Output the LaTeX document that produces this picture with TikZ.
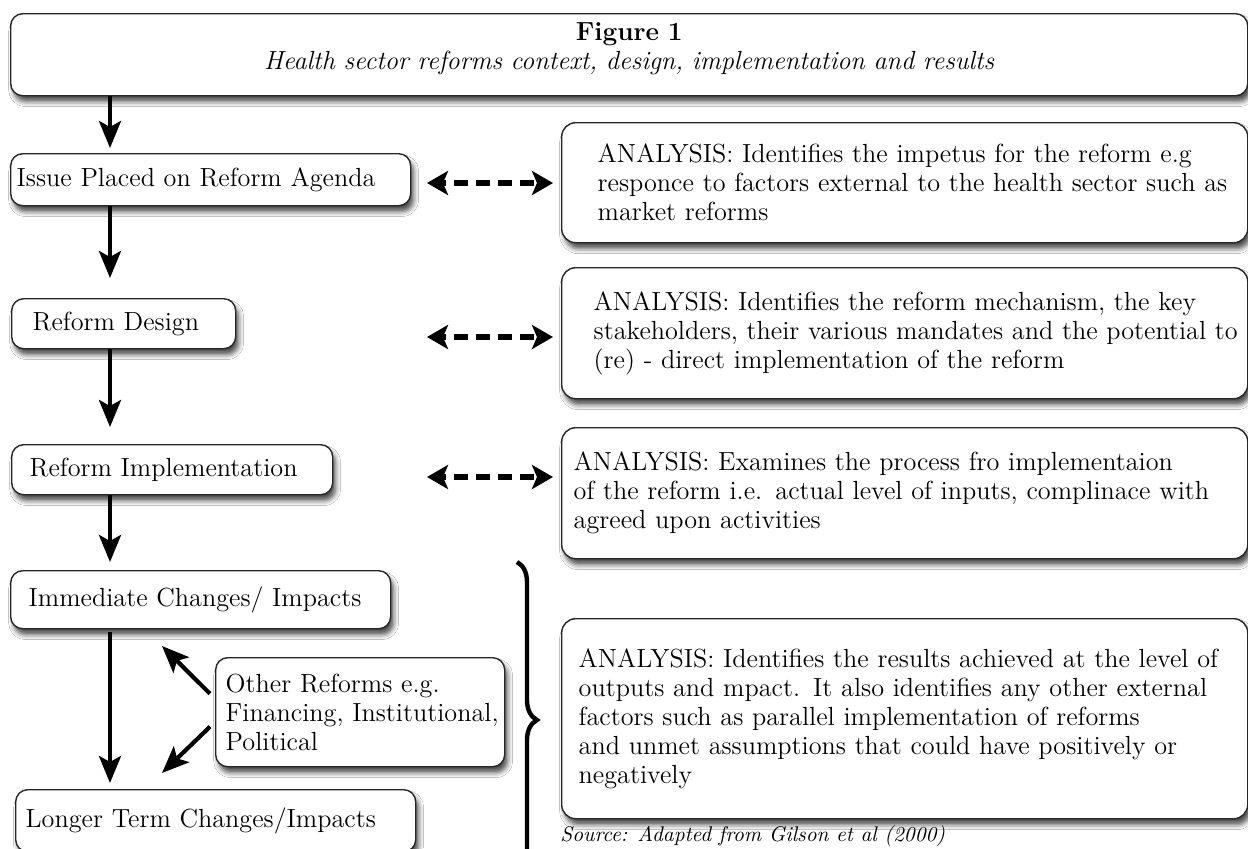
\documentclass[tikz,border=0pt]{standalone}
\usetikzlibrary{arrows.meta,decorations.pathreplacing,shadows.blur}
\begin{document}
\begin{tikzpicture}[x=0.5pt,y=-0.5pt]
\tikzset{
  shbox/.style={draw=black!85, line width=0.7pt, rounded corners=6pt, fill=white,
    blur shadow={shadow xshift=1.5pt, shadow yshift=-3pt, shadow blur radius=2.5pt, shadow opacity=70},
    anchor=north west, inner ysep=0pt, align=left,
    font=\fontsize{13.1}{14.5}\selectfont},
  abox/.style={shbox, rounded corners=7pt, minimum width=343pt},
  flow/.style={line width=2.1pt, -{Stealth[length=13.5pt,width=11pt,inset=3pt]}},
  dflow/.style={line width=2.6pt, dash pattern=on 7pt off 4pt, dash phase=5pt,
    {Stealth[length=10.5pt,width=12pt,inset=2.5pt]}-{Stealth[length=10.5pt,width=12pt,inset=2.5pt]}},
  bracepath/.style={line width=2.2pt, decorate, decoration={brace, amplitude=10pt}},
  srctext/.style={font=\fontsize{10.6}{12}\selectfont\itshape, anchor=base west, inner sep=0pt}
}
\useasboundingbox (0,0) rectangle (1248,848);
\clip (0,0) rectangle (1248,848);
\fill[white] (0,0) rectangle (1248,848);

% left column
\node[shbox, minimum width=618.5pt, minimum height=41pt, text width=600pt, inner xsep=9.25pt, align=center] (top) at (10,13)
  {\textbf{Figure 1}\\\textit{Health sector reforms context, design, implementation and results}\\[-6pt]\mbox{}};
\node[shbox, minimum width=200pt, minimum height=26pt, text width=194pt, inner xsep=3pt] (issue) at (10,153)
  {Issue Placed on Reform Agenda};
\node[shbox, minimum width=112pt, minimum height=25pt, text width=91pt, inner xsep=10.5pt] (design) at (11,298)
  {Reform Design};
\node[shbox, minimum width=160.5pt, minimum height=25pt, text width=142.5pt, inner xsep=9pt] (impl) at (11,444)
  {Reform Implementation};
\node[shbox, minimum width=190pt, minimum height=29pt, text width=172pt, inner xsep=9pt] (immediate) at (10,570)
  {Immediate Changes/ Impacts};
\node[shbox, minimum width=200pt, minimum height=31pt, text width=190pt, inner xsep=5pt] (longer) at (15,789)
  {Longer Term Changes/Impacts};
\node[shbox, minimum width=144.5pt, minimum height=54.5pt, text width=134.5pt, inner xsep=5pt] (other) at (215,657)
  {\mbox{Other Reforms e.g.}\\\mbox{Financing, Institutional,}\\\mbox{Political}};

% analysis boxes
\node[abox, minimum height=60pt, text width=307pt, inner xsep=18pt] (a1) at (561,122)
  {\mbox{ANALYSIS: Identifies the impetus for the reform e.g}\\\mbox{responce to factors external to the health sector such as}\\\mbox{market reforms}};
\node[abox, minimum height=65.5pt, text width=311pt, inner xsep=16pt] (a2) at (561,267)
  {\mbox{ANALYSIS: Identifies the reform mechanism, the key}\\\mbox{stakeholders, their various mandates and the potential to}\\\mbox{(re) - direct implementation of the reform}};
\node[abox, minimum height=65.5pt, text width=331pt, inner xsep=6pt] (a3) at (561,427)
  {\mbox{ANALYSIS: Examines the process fro implementaion}\\\mbox{of the reform i.e. actual level of inputs, complinace with}\\\mbox{agreed upon activities}};
\node[abox, minimum height=100pt, text width=326pt, inner xsep=8.5pt] (a4) at (561,618)
  {\mbox{ANALYSIS: Identifies the results achieved at the level of}\\\mbox{outputs and mpact. It also identifies any other external}\\\mbox{factors such as parallel implementation of reforms}\\\mbox{and unmet assumptions that could have positively or}\\\mbox{negatively}};

\node[srctext] (source) at (560,841) {Source: Adapted from Gilson et al (2000)};

% vertical flow arrows
\coordinate (ax) at (110,0);
\draw[flow, shorten >=2.5pt] (top.south -| ax) -- (issue.north -| ax);
\draw[flow, shorten >=10pt] (issue.south -| ax) -- (design.north -| ax);
\draw[flow, shorten >=8.5pt] (design.south -| ax) -- (impl.north -| ax);
\draw[flow, shorten >=4pt] (impl.south -| ax) -- (immediate.north -| ax);
\draw[flow, shorten <=1.5pt, shorten >=3pt] (immediate.south -| ax) -- (longer.north -| ax);

% other reforms arrows
\coordinate (uptip) at (162,646);
\coordinate (dntip) at (162,773);
\draw[flow] ([xshift=-2.5pt,yshift=9.25pt]other.west) -- (uptip);
\draw[flow] ([xshift=-2.5pt,yshift=-7.25pt]other.west) -- (dntip);

% dashed double arrows
\coordinate (d1l) at (427,183); \coordinate (d1r) at (553,183);
\coordinate (d2l) at (427,337); \coordinate (d2r) at (553,337);
\coordinate (d3l) at (427,477); \coordinate (d3r) at (553,477);
\draw[dflow] (d1l) -- (d1r);
\draw[dflow] (d2l) -- (d2r);
\draw[dflow] (d3l) -- (d3r);

% brace
\coordinate (bt) at (517,562);
\coordinate (bb) at (517,878);
\draw[bracepath] (bt) -- (bb);
\end{tikzpicture}
\end{document}
